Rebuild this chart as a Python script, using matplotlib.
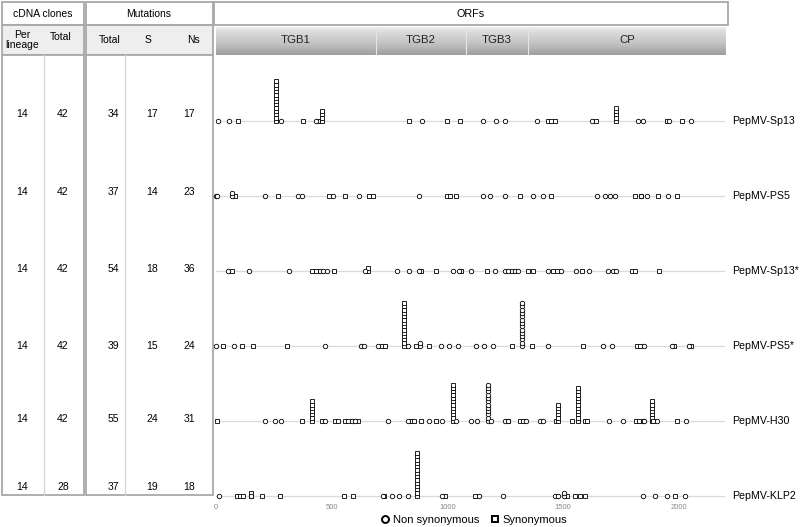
import numpy as np
import matplotlib
matplotlib.use('Agg')
import matplotlib.pyplot as plt
from matplotlib.patches import Rectangle
from matplotlib.lines import Line2D
from matplotlib.colors import LinearSegmentedColormap

plt.rcParams['font.family'] = ['Liberation Sans', 'DejaVu Sans']

# ---------------- data ----------------
LINEAGES = ['PepMV-Sp13', 'PepMV-PS5', 'PepMV-Sp13*', 'PepMV-PS5*', 'PepMV-H30', 'PepMV-KLP2']
CLONES_PER_LINEAGE = [14, 14, 14, 14, 14, 14]
CLONES_TOTAL = [42, 42, 42, 42, 42, 28]
MUT_TOTAL = [34, 37, 54, 39, 55, 37]
MUT_S = [17, 14, 18, 15, 24, 19]
MUT_NS = [17, 23, 36, 24, 31, 18]

ORF_NAMES = ['TGB1', 'TGB2', 'TGB3', 'CP']
ORF_START = [0, 690, 1080, 1348]
ORF_END = [690, 1080, 1348, 2210]

XTICKS = [0, 500, 1000, 1500, 2000]

# mutation positions (nt); (position, n) = same mutation found in n clones (stacked)
SP13_NS = [10, 58, 281, 432, 889, 1152, 1210, 1249, 1386, 1624, 1822, 1844, 1958, 2055]
SP13_S = [93, (259, 13), 376, 442, (456, 4), 836, 997, 1054, 1436, 1450, 1465, 1642,
          (1727, 5), 1948, 2015]

PS5_NS = [0, 6, (68, 2), 212, 356, 370, 504, 618, 879, 1155, 1183, 1249, 1371, 1414,
          1645, 1681, 1703, 1724, 1835, 1861, 1955]
PS5_S = [82, 269, 490, 557, 663, 680, 1000, 1011, 1037, 1314, 1450, 1811, 1835, 1911, 1991]

SP13X_NS = [53, 143, 317, 449, 464, 481, 644, 784, 834, 879, 1025, 1051, 1104, 1205, 1249,
            1263, 1292, 1306, 1436, 1493, 1556, 1613, 1696, 1714, 1729]
SP13X_S = [67, 413, 432, 510, (656, 2), 886, 953, 1061, 1170, 1278, 1350, 1371, 1458, 1475,
           1580, 1797, 1811, 1916]

PS5X_NS = [0, 78, 471, 625, 640, 702, 831, (882, 2), 972, 1008, 1044, 1122, 1158, 1196,
           (1321, 14), 1433, 1674, 1710, 1849, 1973, 2045]
PS5X_S = [29, 114, 159, 308, 716, 730, (814, 14), 863, 920, 1278, 1364, 1587, 1818, 1832,
          1980, 2052]

H30_NS = [212, 257, 283, 471, 588, 602, 745, 828, 922, 975, 1037, 1102, 1126, (1177, 12),
          1187, 1249, 1263, 1342, 1400, 1412, 1698, 1758, 1844, 1849, 1907, 2031]
H30_S = [3, 373, (416, 7), 456, 514, 529, 557, 571, 615, 842, 856, 884, 951, (1026, 12),
         1262, 1314, 1325, 1469, (1480, 6), 1537, (1563, 11), 1595, 1605, 1814, 1828,
         (1883, 7), 1890, 1991]

KLP2_NS = [14, 150, 723, 762, 790, 831, 975, 1138, 1239, 1465, 1480, (1502, 2), 1847, 1897,
           1948, 2027]
KLP2_S = [89, 103, 118, (150, 2), 197, 277, 554, 590, 728, (867, 14), 989, 1119, 1516, 1552,
          1573, 1595, 1984]

NS_ROWS = [SP13_NS, PS5_NS, SP13X_NS, PS5X_NS, H30_NS, KLP2_NS]
S_ROWS = [SP13_S, PS5_S, SP13X_S, PS5X_S, H30_S, KLP2_S]

# ---------------- layout ----------------
W, H = 800, 527
fig = plt.figure(figsize=(W / 100, H / 100), dpi=100)

# overlay in pixel coordinates for the table frame
ov = fig.add_axes([0, 0, 1, 1])
ov.set_xlim(0, W)
ov.set_ylim(H, 0)
ov.axis('off')

BORDER = '#a8a8a8'
LIGHT = '#d4d4d4'


def box(x0, y0, x1, y1, fc='white', ec=BORDER, lw=1.3, z=1):
    ov.add_patch(Rectangle((x0, y0), x1 - x0, y1 - y0, fc=fc, ec=ec, lw=lw, zorder=z))


# header row 1
box(2, 2, 84, 25)
box(86, 2, 213, 25)
box(214, 2, 728, 25)
ov.text(43, 14, 'cDNA clones', ha='center', va='center', fontsize=7.5)
ov.text(149, 14, 'Mutations', ha='center', va='center', fontsize=7.5)
ov.text(471, 14, 'ORFs', ha='center', va='center', fontsize=7.8)

# header row 2 (left)
box(2, 25, 84, 55, fc='#eeeeee')
box(86, 25, 213, 55, fc='#eeeeee')
ov.text(22, 40, 'Per\nlineage', ha='center', va='center', fontsize=7.5, linespacing=1.0)
ov.text(61, 37, 'Total', ha='center', va='center', fontsize=7.5)
ov.text(110, 40, 'Total', ha='center', va='center', fontsize=7.5)
ov.text(148, 40, 'S', ha='center', va='center', fontsize=7.5)
ov.text(193, 40, 'Ns', ha='center', va='center', fontsize=7.5)

# body
box(2, 55, 84, 495)
box(86, 55, 213, 495)
ov.plot([44, 44], [55, 495], color=LIGHT, lw=0.9, zorder=2)
ov.plot([125, 125], [55, 495], color=LIGHT, lw=0.9, zorder=2)

TEXT_Y = [114, 192, 269, 346, 419, 487]
COL_X = [22, 63, 113, 152, 189]
for r in range(len(LINEAGES)):
    vals = [CLONES_PER_LINEAGE[r], CLONES_TOTAL[r], MUT_TOTAL[r], MUT_S[r], MUT_NS[r]]
    for cx, v in zip(COL_X, vals):
        ov.text(cx, TEXT_Y[r], str(v), ha='center', va='center', fontsize=7.5)

# ---------------- main mutation map ----------------
X0, X1 = 216, 725            # pixel extent of x axis
TOP, BOT = 58, 500           # pixel extent of plot axes
BASE0, ROWSTEP = 121, 75     # first baseline pixel, row spacing
XMAX = 2200

ax = fig.add_axes([X0 / W, (H - BOT) / H, (X1 - X0) / W, (BOT - TOP) / H])
ax.set_facecolor('none')
ax.set_xlim(0, XMAX)
ax.set_ylim((BOT - BASE0) / ROWSTEP, (TOP - BASE0) / ROWSTEP)
STACK = 3.3 / ROWSTEP


def expand(entries):
    xs, ks = [], []
    for e in entries:
        pos, n = e if isinstance(e, tuple) else (e, 1)
        for k in range(n):
            xs.append(pos)
            ks.append(k)
    return np.array(xs, float), np.array(ks, float)


for i, name in enumerate(LINEAGES):
    ax.axhline(i, color='#dadada', lw=0.9, zorder=1)
    xs, ks = expand(S_ROWS[i])
    ax.plot(xs, i - ks * STACK, ls='none', marker='s', ms=2.7, mfc='white',
            mec='black', mew=0.6, zorder=3, clip_on=False)
    xs, ks = expand(NS_ROWS[i])
    ax.plot(xs, i - ks * STACK, ls='none', marker='o', ms=3.2, mfc='white',
            mec='black', mew=0.6, zorder=3, clip_on=False)
    ax.text(1.0138, i, name, transform=ax.get_yaxis_transform(), ha='left',
            va='center', fontsize=7.7, clip_on=False)

ax.set_xticks(XTICKS)
ax.set_xticklabels([str(t) for t in XTICKS])
ax.set_yticks([])
ax.tick_params(axis='x', length=0, labelsize=5.5, labelcolor='#888888', pad=3)
for s in ax.spines.values():
    s.set_visible(False)

# ---------------- ORF header bars ----------------
hx = fig.add_axes([X0 / W, (H - 55) / H, (X1 - X0) / W, 28 / H])
grad_cmap = LinearSegmentedColormap.from_list(
    'hdr', [(0, '#eeeeee'), (0.15, '#dcdcdc'), (0.6, '#c2c2c2'), (1, '#9e9e9e')])
grad = np.linspace(0, 1, 64).reshape(-1, 1)
for name, s, e in zip(ORF_NAMES, ORF_START, ORF_END):
    hx.imshow(grad, extent=[s, e, 1, 0], aspect='auto', cmap=grad_cmap, vmin=0, vmax=1,
              interpolation='bilinear')
    hx.text((s + e) / 2, 0.45, name, ha='center', va='center', fontsize=8.2, color='#222222')
for s in ORF_START[1:]:
    hx.axvline(s, color='#e6e6e6', lw=0.8)
hx.set_xlim(0, XMAX)
hx.set_ylim(1, 0)
hx.axis('off')

# ---------------- legend ----------------
handles = [
    Line2D([], [], ls='none', marker='o', ms=5, mfc='white', mec='black', mew=1.4),
    Line2D([], [], ls='none', marker='s', ms=4.5, mfc='white', mec='black', mew=1.4),
]
fig.legend(handles, ['Non synonymous', 'Synonymous'], loc='center',
           bbox_to_anchor=(474 / W, 1 - 520 / H), ncol=2, frameon=False, fontsize=8,
           handlelength=0.8, handletextpad=0.3, columnspacing=1.0, borderpad=0)

fig.savefig('out.png', dpi=100)
